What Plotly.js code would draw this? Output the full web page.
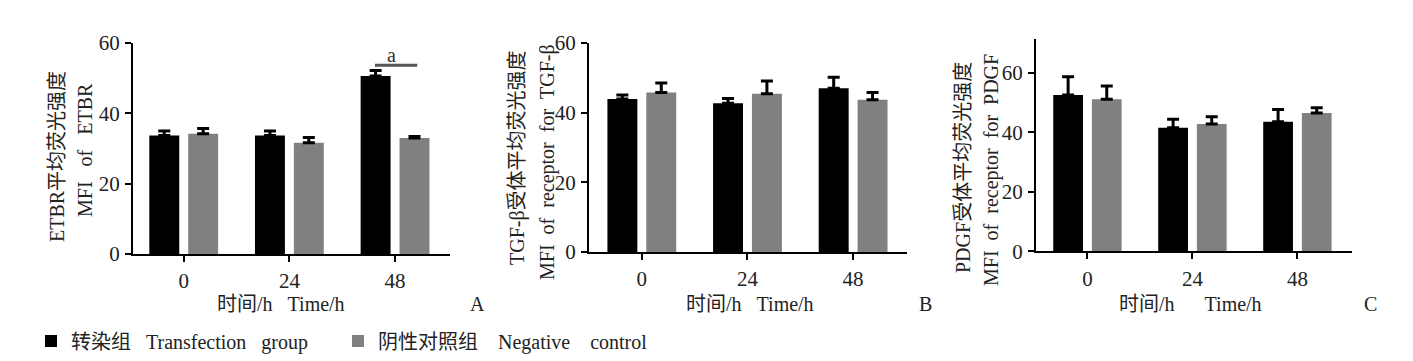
<!DOCTYPE html>
<html><head><meta charset="utf-8">
<script src="https://cdn.plot.ly/plotly-3.0.1.min.js"></script>
<style>html,body{margin:0;padding:0;background:#fff}</style>
</head><body><div id="chart" style="width:1413px;height:361px"></div>
<script>
// ---------- data ----------
const categories = ['0', '24', '48'];
const seriesNames = ['转染组\u00a0\u00a0\u00a0Transfection\u00a0\u00a0\u00a0group',
                     '阴性对照组\u00a0\u00a0\u00a0\u00a0Negative\u00a0\u00a0\u00a0\u00a0control'];

// Panel A: ETBR
const etbrTransfection = [33.7, 33.7, 50.6];
const etbrTransfectionErr = [1.3, 1.3, 1.6];
const etbrControl = [34.2, 31.6, 33.0];
const etbrControlErr = [1.5, 1.5, 0.4];

// Panel B: TGF-β receptor
const tgfTransfection = [43.9, 42.7, 47.0];
const tgfTransfectionErr = [1.2, 1.4, 3.2];
const tgfControl = [45.8, 45.4, 43.7];
const tgfControlErr = [2.7, 3.7, 2.1];

// Panel C: PDGF receptor
const pdgfTransfection = [52.5, 41.5, 43.5];
const pdgfTransfectionErr = [6.1, 2.9, 4.1];
const pdgfControl = [51.1, 42.8, 46.5];
const pdgfControlErr = [4.4, 2.4, 1.7];

const yTickValues = [0, 20, 40, 60];
const yTitlesA = ['ETBR平均荧光强度', 'MFI\u00a0\u00a0\u00a0of\u00a0\u00a0\u00a0ETBR'];
const yTitlesB = ['TGF-β受体平均荧光强度', 'MFI\u00a0\u00a0of\u00a0\u00a0receptor\u00a0\u00a0for\u00a0\u00a0TGF-β'];
const yTitlesC = ['PDGF受体平均荧光强度', 'MFI\u00a0\u00a0of\u00a0\u00a0receptor\u00a0\u00a0for\u00a0\u00a0PDGF'];
const xTitleAB = '时间/h\u00a0\u00a0\u00a0Time/h';
const xTitleC = '时间/h\u00a0\u00a0\u00a0\u00a0\u00a0\u00a0Time/h';
const panelLetters = ['A', 'B', 'C'];
const sigLabel = 'a';
const sigValue = 53.7;

// ---------- style ----------
const W = 1413, H = 361;
const FONT = '"Liberation Serif", "Noto Sans CJK SC", serif';
const BLACK = '#000000', GRAY = '#808080';
const px = v => v / W;
const py = v => 1 - v / H;

function bar(x, y, err, color, name, xa, ya, legendId) {
  return {
    type: 'bar', x: x, y: y, name: name, xaxis: xa, yaxis: ya,
    marker: {color: color, line: {width: 0}},
    error_y: {type: 'data', array: err, arrayminus: err.map(() => 0), symmetric: false,
              color: '#000', thickness: 3, width: 6},
    showlegend: !!legendId, legend: legendId || 'legend', hoverinfo: 'skip'
  };
}

const data = [
  bar(categories, etbrTransfection, etbrTransfectionErr, BLACK, seriesNames[0], 'x', 'y', 'legend'),
  bar(categories, etbrControl, etbrControlErr, GRAY, seriesNames[1], 'x', 'y', 'legend2'),
  bar(categories, tgfTransfection, tgfTransfectionErr, BLACK, seriesNames[0], 'x2', 'y2'),
  bar(categories, tgfControl, tgfControlErr, GRAY, seriesNames[1], 'x2', 'y2'),
  bar(categories, pdgfTransfection, pdgfTransfectionErr, BLACK, seriesNames[0], 'x3', 'y3'),
  bar(categories, pdgfControl, pdgfControlErr, GRAY, seriesNames[1], 'x3', 'y3')
];

const axisBase = {
  showline: true, linecolor: '#000', linewidth: 2,
  ticks: 'outside', ticklen: 6, tickwidth: 2, tickcolor: '#000',
  showgrid: false, zeroline: false, fixedrange: true,
  tickfont: {family: FONT, size: 21, color: '#222'}
};
function xax(l, r, range, anchor) {
  return Object.assign({}, axisBase, {type: 'category', domain: [px(l), px(r)], range: range,
    anchor: anchor, ticklabelstandoff: 1});
}
function yax(b, t, range, anchor) {
  return Object.assign({}, axisBase, {domain: [py(b), py(t)], range: range, anchor: anchor,
    tickmode: 'array', tickvals: yTickValues, ticktext: yTickValues.map(String), ticklabelstandoff: 1});
}

const txt = (s, x, y, size, angle) => ({
  text: s, xref: 'paper', yref: 'paper', x: px(x), y: py(y), showarrow: false,
  xanchor: 'center', yanchor: 'middle', textangle: angle || 0,
  font: {family: FONT, size: size, color: '#222'}
});

const annotations = [
  txt(yTitlesA[0], 57, 157, 20, -90), txt(yTitlesA[1], 85, 150, 20, -90),
  txt(yTitlesB[0], 517, 158, 20, -90), txt(yTitlesB[1], 548, 162, 20, -90),
  txt(yTitlesC[0], 963, 167, 20, -90), txt(yTitlesC[1], 992, 170, 20, -90),
  txt(xTitleAB, 281, 304, 20), txt(xTitleAB, 750, 304, 20), txt(xTitleC, 1190, 304, 20),
  txt(panelLetters[0], 477, 304, 20), txt(panelLetters[1], 925, 304, 20), txt(panelLetters[2], 1370, 304, 20),
  {text: sigLabel, xref: 'x', yref: 'y', x: 1.97, y: sigValue, yanchor: 'bottom', xanchor: 'center',
   showarrow: false, yshift: -3, font: {family: FONT, size: 20, color: '#333'}}
];

const shapes = [
  {type: 'line', xref: 'x', yref: 'y', x0: 1.81, x1: 2.21, y0: sigValue, y1: sigValue,
   line: {color: '#555', width: 3}}
];

const legendBase = {orientation: 'h', yanchor: 'middle', xanchor: 'left', bgcolor: 'rgba(0,0,0,0)',
  borderwidth: 0, font: {family: FONT, size: 20, color: '#222'}};

const layout = {
  width: W, height: H, margin: {l: 0, r: 0, t: 0, b: 0},
  paper_bgcolor: '#fff', plot_bgcolor: '#fff',
  barmode: 'group', bargap: 0.264, bargroupgap: 0.23,
  xaxis: xax(133, 450, [-0.48, 2.52], 'y'),
  yaxis: yax(254, 43, [0, 60], 'x'),
  xaxis2: xax(589, 907, [-0.5, 2.51], 'y2'),
  yaxis2: yax(252, 43, [0, 60], 'x2'),
  xaxis3: xax(1036, 1352, [-0.49, 2.52], 'y3'),
  yaxis3: yax(251.4, 39.3, [0, 71.2], 'x3'),
  legend: Object.assign({}, legendBase, {x: px(31), y: py(341)}),
  legend2: Object.assign({}, legendBase, {x: px(338), y: py(341)}),
  annotations: annotations,
  shapes: shapes,
  showlegend: true
};

Plotly.newPlot('chart', data, layout, {displayModeBar: false, staticPlot: true});
</script>
</body></html>
